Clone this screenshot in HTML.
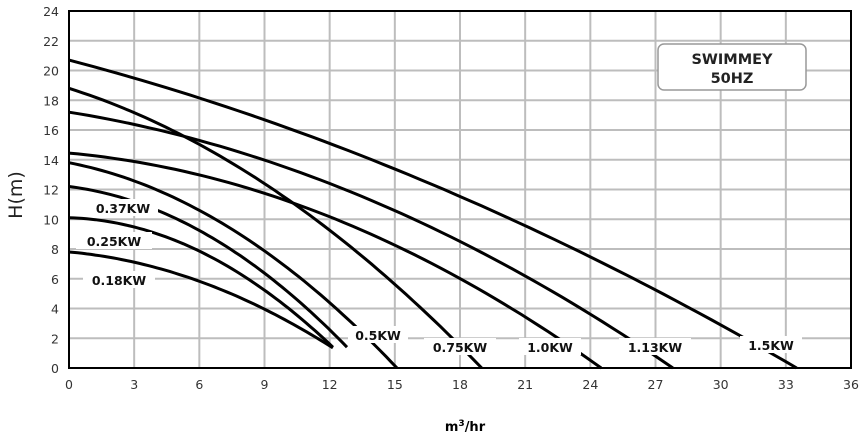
<!DOCTYPE html>
<html><head><meta charset="utf-8"><style>body{margin:0;background:#fff}svg{display:block}</style></head>
<body>
<svg id="s" width="866" height="436" xmlns="http://www.w3.org/2000/svg" font-family="DejaVu Sans, Liberation Sans, sans-serif">
<g id="grid" stroke="#bdbdbd" stroke-width="2"></g>
<g id="curves" fill="none" stroke="#000" stroke-width="3"></g>
<g id="labels"></g>
<rect x="69" y="11" width="782" height="357" fill="none" stroke="#000" stroke-width="2"/>
<g id="ticks" font-size="12.5" fill="#333"></g>
<text x="22" y="195" font-size="19" fill="#222" transform="rotate(-90 22 195)" text-anchor="middle">H(m)</text>
<text x="465" y="431" font-size="13" font-weight="bold" text-anchor="middle">m<tspan dy="-5" font-size="9">3</tspan><tspan dy="5">/hr</tspan></text>
<rect x="658" y="44" width="148" height="46" rx="6" fill="#fff" stroke="#999" stroke-width="1.5"/>
<text x="732" y="64" font-size="14.5" font-weight="bold" text-anchor="middle" fill="#222">SWIMMEY</text>
<text x="732" y="83" font-size="14.5" font-weight="bold" text-anchor="middle" fill="#222">50HZ</text>
</svg>
<script>
var NS="http://www.w3.org/2000/svg";
function X(q){return 69+q*782/36}
function Y(h){return 368-h*357/24}
function el(p,t,a,txt){var e=document.createElementNS(NS,t);for(var k in a)e.setAttribute(k,a[k]);if(txt)e.textContent=txt;document.getElementById(p).appendChild(e);return e}
for(var i=1;i<12;i++){el("grid","line",{x1:X(i*3),x2:X(i*3),y1:11,y2:368})}
for(var j=1;j<12;j++){el("grid","line",{x1:69,x2:851,y1:Y(j*2),y2:Y(j*2)})}
for(var i=0;i<=12;i++){el("ticks","text",{x:X(i*3),y:389,"text-anchor":"middle"},String(i*3))}
for(var j=0;j<=12;j++){el("ticks","text",{x:59,y:Y(j*2)+5,"text-anchor":"end"},String(j*2))}
function fit(H0,q1,h1,q2,h2){
 var r1=h1-H0,r2=h2-H0;
 var c=(r2/q2-r1/q1)/(q2-q1); var b=r1/q1-c*q1; return function(q){return H0+b*q+c*q*q}}
var C=[
 [20.7,6,18.15,33.5,0,33.5],
 [17.2,6,15.3,27.8,0,27.8],
 [14.45,10.3,11.1,24.5,0,24.5],
 [18.8,10.3,11.1,19,0,19],
 [13.8,6,10.6,15.1,0,15.1],
 [12.2,4.55,10.3,12.8,1.4,12.8],
 [10.1,4.2,8.95,12.15,1.4,12.15],
 [7.8,8.8,4.1,12.15,1.35,12.15]
];
C.forEach(function(c){var f=fit(c[0],c[1],c[2],c[3],c[4]);var d="";for(var k=0;k<=60;k++){var q=c[5]*k/60;var h=Math.max(0,f(q));d+=(k?"L":"M")+X(q).toFixed(1)+","+Y(h).toFixed(1)}el("curves","path",{d:d})});
var L=[["0.5KW",378,337,60],["0.75KW",460,349,72],["1.0KW",550,349,62],["1.13KW",655,349,72],["1.5KW",771,347,62],["0.37KW",123,210,70],["0.25KW",114,243,76],["0.18KW",119,282,72]];
L.forEach(function(l){var w=l[3];el("labels","rect",{x:l[1]-w/2,y:l[2]-11,width:w,height:17,fill:"#fff"});el("labels","text",{x:l[1],y:l[2]+3,"text-anchor":"middle","font-size":"12.5","font-weight":"bold",fill:"#111"},l[0])});
</script>
</body></html>
